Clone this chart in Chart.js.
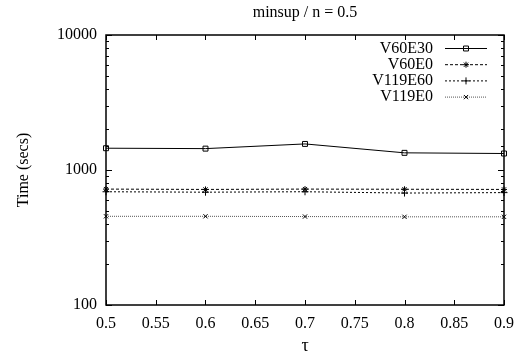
<!DOCTYPE html>
<html>
<head>
<meta charset="utf-8">
<script src="https://cdn.jsdelivr.net/npm/chart.js@4"></script>
<style>
  html, body { margin: 0; padding: 0; background: #fff; }
  #wrap { width: 526px; height: 355px; }
</style>
</head>
<body>
<div id="wrap"><canvas id="chart" width="526" height="355"></canvas></div>
<script>
// tau values on the x axis
const tauValues = [0.5, 0.6, 0.7, 0.8, 0.9];

// run times (secs)
const v60e30 = [1450, 1440, 1560, 1340, 1325];
const v60e0 = [722, 718, 722, 720, 718];
const v119e60 = [690, 685, 690, 675, 680];
const v119e0 = [454, 454, 452, 450, 450];

const seriesLabels = ['V60E30', 'V60E0', 'V119E60', 'V119E0'];
const yTickLabels = [100, 1000, 10000];

const FONT = 'Liberation Serif';

function pts(vals) {
  return tauValues.map((t, i) => ({ x: t, y: vals[i] }));
}

// gnuplot-style inward ticks, frame and key
const gnuplotLook = {
  id: 'gnuplotLook',
  afterDraw(chart) {
    const ctx = chart.ctx;
    const a = chart.chartArea;
    const xs = chart.scales.x, ys = chart.scales.y;
    ctx.save();
    ctx.strokeStyle = '#000';
    ctx.lineWidth = 1;
    ctx.beginPath();
    xs.ticks.forEach(t => {
      const px = Math.round(xs.getPixelForValue(t.value)) + 0.5;
      ctx.moveTo(px, a.bottom); ctx.lineTo(px, a.bottom - 5);
      ctx.moveTo(px, a.top); ctx.lineTo(px, a.top + 5);
    });
    ys.ticks.forEach(t => {
      const lg = Math.log10(t.value);
      const len = Math.abs(lg - Math.round(lg)) < 1e-9 ? 6 : 3;
      const py = Math.round(ys.getPixelForValue(t.value)) + 0.5;
      ctx.moveTo(a.left, py); ctx.lineTo(a.left + len, py);
      ctx.moveTo(a.right, py); ctx.lineTo(a.right - len, py);
    });
    ctx.stroke();
    ctx.lineWidth = 1.5;
    ctx.strokeRect(a.left, a.top, a.right - a.left, a.bottom - a.top);

    // key, text left of the sample
    ctx.font = '16px "' + FONT + '"';
    ctx.textAlign = 'right';
    ctx.textBaseline = 'middle';
    chart.data.datasets.forEach((ds, i) => {
      const y = a.top + 13.5 + i * 16.2;
      ctx.fillStyle = '#000';
      ctx.fillText(ds.label, a.right - 71, y);
      ctx.lineWidth = ds.borderWidth;
      ctx.strokeStyle = ds.borderColor;
      ctx.setLineDash(ds.borderDash || []);
      ctx.beginPath();
      ctx.moveTo(a.right - 59, y); ctx.lineTo(a.right - 17, y);
      ctx.stroke();
      ctx.setLineDash([]);
      ctx.lineWidth = 1;
      ctx.strokeStyle = '#000';
      ctx.fillStyle = 'rgba(0,0,0,0)';
      Chart.helpers.drawPoint(ctx, { pointStyle: ds.pointStyle, radius: ds.pointRadius, rotation: 0, borderWidth: 1 }, a.right - 38, y);
    });
    ctx.restore();
  }
};

const common = { borderColor: '#000', borderWidth: 1, pointBorderColor: '#000', pointBackgroundColor: 'rgba(0,0,0,0)', pointBorderWidth: 1, fill: false, tension: 0, clip: false };

new Chart(document.getElementById('chart'), {
  type: 'line',
  data: {
    datasets: [
      { ...common, label: seriesLabels[0], data: pts(v60e30), pointStyle: 'rect', pointRadius: 3.5 },
      { ...common, label: seriesLabels[1], data: pts(v60e0), pointStyle: 'star', pointRadius: 3, borderDash: [3, 2] },
      { ...common, label: seriesLabels[2], data: pts(v119e60), pointStyle: 'cross', pointRadius: 3.5, borderDash: [2, 2] },
      { ...common, label: seriesLabels[3], data: pts(v119e0), pointStyle: 'crossRot', pointRadius: 3, borderDash: [1, 1], borderColor: '#555' }
    ]
  },
  options: {
    responsive: false,
    animation: false,
    layout: { padding: { left: 0, right: 22, top: 0, bottom: 0 } },
    plugins: {
      legend: { display: false },
      tooltip: { enabled: false },
      title: {
        display: true, text: 'minsup / n = 0.5', fullSize: false, color: '#000',
        font: { family: FONT, size: 16, weight: 'normal' },
        padding: { top: 3.4, bottom: 12.4 }
      }
    },
    scales: {
      x: {
        type: 'linear', min: 0.5, max: 0.9,
        grid: { display: false, drawTicks: false },
        border: { display: false },
        ticks: {
          stepSize: 0.05, color: '#000', padding: 9, maxRotation: 0,
          font: { family: FONT, size: 16 },
          callback: v => String(parseFloat(v.toFixed(2)))
        },
        title: { display: true, text: 'τ', color: '#000', font: { family: FONT, size: 18 }, padding: { top: 0, bottom: -2 } },
        afterFit: s => { s.height = 50; }
      },
      y: {
        type: 'logarithmic', min: 100, max: 10000,
        grid: { display: false, drawTicks: false },
        border: { display: false },
        ticks: {
          color: '#000', padding: 9, autoSkip: false,
          font: { family: FONT, size: 16 },
          callback: v => yTickLabels.includes(v) ? String(v) : ''
        },
        title: { display: true, text: 'Time (secs)', color: '#000', font: { family: FONT, size: 16 }, padding: { top: 14, bottom: 0 } },
        afterFit: s => { s.width = 106; }
      }
    }
  },
  plugins: [gnuplotLook]
});
</script>
</body>
</html>
